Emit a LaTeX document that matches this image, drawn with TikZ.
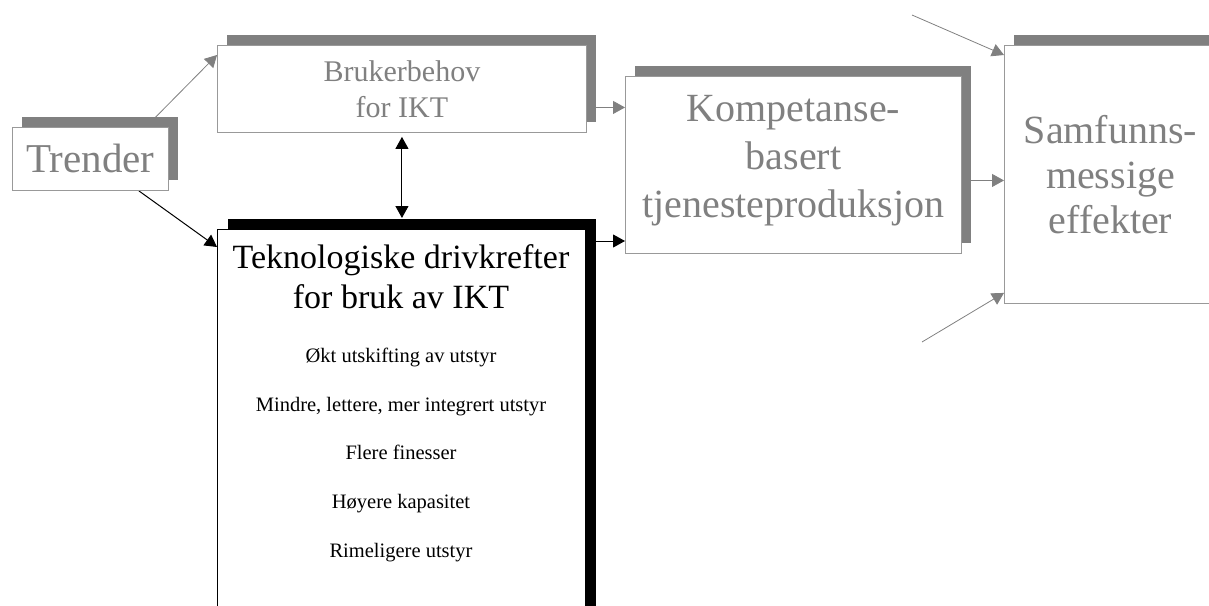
\documentclass[tikz,border=0pt]{standalone}
\usepackage{fontspec}
\setmainfont{Liberation Serif}
\usetikzlibrary{arrows.meta,shadows,backgrounds}

\definecolor{boxgray}{HTML}{999999}
\definecolor{shadegray}{HTML}{808080}
\definecolor{textgray}{HTML}{808080}

\begin{document}
\begin{tikzpicture}[x=1pt,y=-1pt,
  box/.style={rectangle, anchor=north west, inner sep=0pt, align=center, fill=white},
  graybox/.style={box, draw=boxgray, line width=0.9pt, text=textgray,
      general shadow={fill=shadegray, shadow xshift=10pt, shadow yshift=10pt}},
  blackbox/.style={box, draw=black, line width=1pt, text=black,
      general shadow={fill=black, shadow xshift=10pt, shadow yshift=11pt}},
  garrow/.style={draw=textgray, line width=0.8pt, -{Triangle[length=12pt,width=13pt]}},
  barrow/.style={draw=black, line width=1pt, -{Triangle[length=12pt,width=13pt]}},
  big/.style={font=\fontsize{40}{48}\selectfont},
  title/.style={anchor=base, font=\fontsize{34}{40}\selectfont},
  item/.style={anchor=base, font=\fontsize{20.5}{24}\selectfont},
]
\useasboundingbox (0,0) rectangle (1209,605);

% boxes
\node[graybox, font=\fontsize{41}{48}\selectfont, minimum width=156pt, minimum height=63pt]
  (trender) at (12,127) {Trender};
\node[graybox, font=\fontsize{30}{36}\selectfont, minimum width=369pt, minimum height=87pt]
  (bruker) at (217,45) {Brukerbehov\\for IKT};
\node[graybox, minimum width=336pt, minimum height=177pt] (komp) at (625,76) {};
\node[big, text=textgray, align=center, inner sep=0pt] (kompText) at ([yshift=4pt]komp.center)
  {Kompetanse-\\basert\\tjenesteproduksjon};
\node[graybox, font=\fontsize{40}{45}\selectfont, minimum width=212pt, minimum height=258pt]
  (samf) at (1004,45) {Samfunns-\\messige\\effekter};
\node[blackbox, minimum width=368pt, minimum height=420pt] (tek) at (217,229) {};

% contents of the technology box
\node[title] (tekA) at (401,268) {Teknologiske drivkrefter};
\node[title] (tekB) at (401,308) {for bruk av IKT};
\node[item] (i1) at (401,362) {Økt utskifting av utstyr};
\node[item] (i2) at (401,411) {Mindre, lettere, mer integrert utstyr};
\node[item] (i3) at (401,459) {Flere finesser};
\node[item] (i4) at (401,508) {Høyere kapasitet};
\node[item] (i5) at (401,557) {Rimeligere utstyr};

% connectors, behind the boxes and their shadows
\begin{scope}[on background layer]
  \draw[garrow] ([xshift=-23pt]trender.north east) -- ([yshift=-10pt]bruker.north west);
  \draw[barrow] ([xshift=-30pt]trender.south east) -- ([yshift=-18pt]tek.north west);
  \coordinate (tektop) at ([yshift=11pt]tek.north);
  \draw[black, line width=1pt, {Triangle[length=12pt,width=13pt]}-{Triangle[length=12pt,width=13pt]}]
    ([yshift=-4pt]bruker.south) -- (bruker.south |- tektop);
  \coordinate (bk) at ([yshift=-18.5pt]bruker.east);
  \draw[garrow] (bk) -- (bk -| komp.west);
  \coordinate (tk) at ([yshift=-12pt]tek.north east);
  \draw[barrow] (tk) -- (tk -| komp.west);
  \coordinate (ks) at ([yshift=-15.5pt]komp.east);
  \draw[garrow] (ks) -- (ks -| samf.west);
\end{scope}

% outside influences on the societal effects
\coordinate (in1) at (912,15);
\coordinate (in2) at (922,342);
\draw[garrow] (in1) -- ([yshift=-10pt]samf.north west);
\draw[garrow] (in2) -- ([yshift=11pt]samf.south west);
\end{tikzpicture}
\end{document}
